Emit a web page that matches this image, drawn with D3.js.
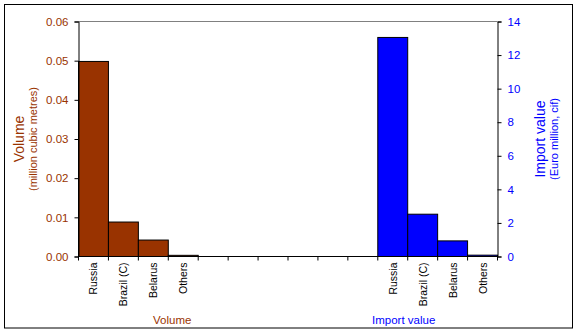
<!DOCTYPE html>
<html>
<head>
<meta charset="utf-8">
<script src="https://cdn.jsdelivr.net/npm/d3@7"></script>
<style>
  html, body { margin: 0; padding: 0; background: #fff; }
  svg { display: block; font-family: "Liberation Sans", Arial, sans-serif; }
</style>
</head>
<body>
<svg id="chart" width="577" height="332"></svg>
<script>
// Supplier countries, shown once per measure
const countries = ["Russia", "Brazil (C)", "Belarus", "Others"];
// Volume, million cubic metres
const volume = [0.0498, 0.0088, 0.0042, 0.0003];
// Import value, Euro million (cif)
const importValue = [13.05, 2.52, 0.93, 0.08];
// Empty slots between the two groups
const gapSlots = 6;
const volumeTicks = [0, 0.01, 0.02, 0.03, 0.04, 0.05, 0.06];
const valueTicks = [0, 2, 4, 6, 8, 10, 12, 14];
const groupTitles = ["Volume", "Import value"];

const brown = "#993300";
const blue = "#0000FF";

const svg = d3.select("#chart");
const plot = { left: 78.5, right: 497.5, top: 21.5, bottom: 256.5 };

// Slot layout: 4 volume bars, gap, 4 import value bars
const slots = d3.range(countries.length * 2 + gapSlots);
const x = d3.scaleBand().domain(slots).range([plot.left, plot.right]).padding(0);
const yL = d3.scaleLinear().domain([0, 0.06]).range([plot.bottom, plot.top]);
const yR = d3.scaleLinear().domain([0, 14]).range([plot.bottom, plot.top]);

// Outer frame
svg.append("rect")
  .attr("x", 4.5).attr("y", 4.5).attr("width", 568).attr("height", 323.5)
  .attr("fill", "none").attr("stroke", "#000").attr("stroke-width", 1);

// Top edge of plot area
svg.append("line")
  .attr("x1", plot.left).attr("x2", plot.right)
  .attr("y1", plot.top).attr("y2", plot.top)
  .attr("stroke", "#808080");

// Bars
const volData = volume.map((v, i) => ({ slot: i, v }));
const impData = importValue.map((v, i) => ({ slot: countries.length + gapSlots + i, v }));

svg.append("g").selectAll("rect").data(volData).join("rect")
  .attr("x", d => x(d.slot)).attr("width", x.bandwidth())
  .attr("y", d => yL(d.v)).attr("height", d => yL(0) - yL(d.v))
  .attr("fill", brown).attr("stroke", "#000").attr("stroke-width", 1);

svg.append("g").selectAll("rect").data(impData).join("rect")
  .attr("x", d => x(d.slot)).attr("width", x.bandwidth())
  .attr("y", d => yR(d.v)).attr("height", d => yR(0) - yR(d.v))
  .attr("fill", blue).attr("stroke", "#000").attr("stroke-width", 1);

// Left axis
const axL = svg.append("g").attr("transform", `translate(${plot.left},0)`)
  .call(d3.axisLeft(yL).tickValues(volumeTicks).tickFormat(d3.format(".2f")).tickSize(4).tickPadding(6));
axL.select(".domain").attr("stroke", "#000");
axL.selectAll(".tick line").attr("stroke", "#000");
axL.selectAll("text").attr("fill", brown).attr("font-size", 11.5).attr("font-family", "Liberation Sans, Arial, sans-serif");

// Right axis
const axR = svg.append("g").attr("transform", `translate(${plot.right},0)`)
  .call(d3.axisRight(yR).tickValues(valueTicks).tickSize(4).tickPadding(6));
axR.select(".domain").attr("stroke", "#000");
axR.selectAll(".tick line").attr("stroke", "#000");
axR.selectAll("text").attr("fill", blue).attr("font-size", 11.5).attr("font-family", "Liberation Sans, Arial, sans-serif");

// Bottom axis line with ticks at slot boundaries
svg.append("line")
  .attr("x1", plot.left).attr("x2", plot.right)
  .attr("y1", plot.bottom).attr("y2", plot.bottom)
  .attr("stroke", "#000");
const bounds = slots.map(s => x(s)).concat([plot.right]);
svg.append("g").selectAll("line").data(bounds).join("line")
  .attr("x1", d => d).attr("x2", d => d)
  .attr("y1", plot.bottom).attr("y2", plot.bottom + 4)
  .attr("stroke", "#000");

// Category labels, rotated
const labelData = volData.map((d, i) => ({ slot: d.slot, name: countries[i] }))
  .concat(impData.map((d, i) => ({ slot: d.slot, name: countries[i] })));
svg.append("g").selectAll("text").data(labelData).join("text")
  .attr("transform", d => `translate(${x(d.slot) + x.bandwidth() / 2 + 4},${plot.bottom + 6}) rotate(-90)`)
  .attr("text-anchor", "end")
  .attr("font-size", 10.5)
  .attr("fill", "#000")
  .text(d => d.name);

// Group titles under the axis
svg.append("text").attr("x", 153).attr("y", 324).attr("font-size", 11.5)
  .attr("fill", brown).text(groupTitles[0]);
svg.append("text").attr("x", 372).attr("y", 324).attr("font-size", 11.5)
  .attr("fill", blue).text(groupTitles[1]);

// Axis titles
const midY = (plot.top + plot.bottom) / 2;
function vTitle(xPos, txt, size, color) {
  svg.append("text")
    .attr("transform", `translate(${xPos},${midY}) rotate(-90)`)
    .attr("text-anchor", "middle").attr("font-size", size).attr("fill", color)
    .text(txt);
}
vTitle(24, "Volume", 14, brown);
vTitle(37, "(million cubic metres)", 11, brown);
vTitle(545, "Import value", 14, blue);
vTitle(558, "(Euro million, cif)", 11, blue);
</script>
</body>
</html>
